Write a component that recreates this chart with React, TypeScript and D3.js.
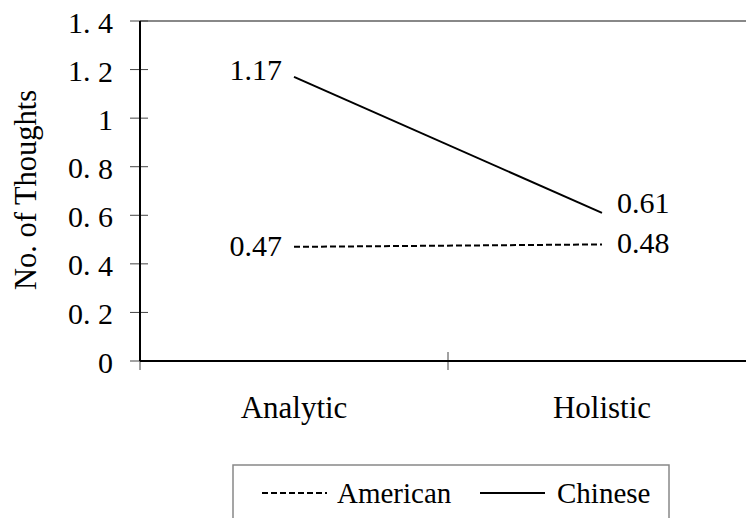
import React from "react";
import * as d3 from "d3";

const categories = ["Analytic", "Holistic"];
const seriesNames = ["American", "Chinese"];
const americanValues = [0.47, 0.48];
const chineseValues = [1.17, 0.61];
const yTicks = [0, 0.2, 0.4, 0.6, 0.8, 1, 1.2, 1.4];

const W = 746;
const H = 518;
const left = 140;
const right = 756;
const top = 21;
const bottom = 361;

const serif = "Liberation Serif, Times New Roman, Times, serif";

function TickLabel({ v, x, y }: { v: number; x: number; y: number }) {
  const s = d3.format("")(v);
  const parts = s.split(".");
  const style = { fontFamily: serif, fontSize: 30 };
  if (parts.length === 1) {
    return (
      <text x={x} y={y} textAnchor="end" dominantBaseline="central" style={style}>
        {s}
      </text>
    );
  }
  return (
    <text x={x} y={y} textAnchor="end" dominantBaseline="central" style={style}>
      {parts[0] + "."}
      <tspan dx={7.5}>{parts[1]}</tspan>
    </text>
  );
}

export default function App() {
  const x = d3.scaleBand<string>().domain(categories).range([left, right]);
  const y = d3.scaleLinear().domain([0, 1.4]).range([bottom, top]);
  const cx = (c: string) => (x(c) as number) + x.bandwidth() / 2;

  const line = d3
    .line<[string, number]>()
    .x((d) => cx(d[0]))
    .y((d) => y(d[1]));

  const series = [
    { name: seriesNames[0], values: americanValues, dash: "6,3", dyLeft: 9, dyRight: 9 },
    { name: seriesNames[1], values: chineseValues, dash: undefined as string | undefined, dyLeft: 3, dyRight: 0 },
  ];

  const txt = (size: number) => ({ fontFamily: serif, fontSize: size });

  return (
    <svg width={W} height={H} style={{ position: "absolute", left: 0, top: 0, background: "#fff" }}>
      {/* plot frame top edge */}
      <line x1={left} x2={right} y1={top} y2={top} stroke="#888" strokeWidth={2} />

      {/* y ticks */}
      {yTicks.map((t) => (
        <g key={t}>
          <line x1={left - 10} x2={t === 0 ? left : left + 8} y1={y(t)} y2={y(t)} stroke="#444" strokeWidth={1} />
          <TickLabel v={t} x={113} y={y(t) + 1} />
        </g>
      ))}

      {/* x ticks at category boundaries */}
      {[left, left + x.bandwidth(), right].map((bx, i) => (
        <line key={i} x1={bx} x2={bx} y1={i === 0 ? bottom : bottom - 9} y2={bottom + 9} stroke="#444" strokeWidth={1} />
      ))}

      {/* axes */}
      <line x1={left} x2={left} y1={top} y2={bottom} stroke="#000" strokeWidth={2} />
      <line x1={left} x2={right} y1={bottom} y2={bottom} stroke="#000" strokeWidth={2} />

      {/* category labels */}
      {categories.map((c) => (
        <text key={c} x={cx(c)} y={418} textAnchor="middle" style={txt(31)}>
          {c}
        </text>
      ))}

      {/* y axis title */}
      <text transform={`translate(36, 190) rotate(-90)`} textAnchor="middle" style={txt(30.5)}>
        No. of Thoughts
      </text>

      {/* series lines and value labels */}
      {series.map((s) => {
        const pts = categories.map((c, i) => [c, s.values[i]] as [string, number]);
        return (
          <g key={s.name}>
            <path d={line(pts) || ""} fill="none" stroke="#000" strokeWidth={2} strokeDasharray={s.dash} />
            <text x={cx(categories[0]) - 12} y={y(s.values[0]) + s.dyLeft} textAnchor="end" style={txt(30)}>
              {s.values[0].toFixed(2)}
            </text>
            <text x={cx(categories[1]) + 15} y={y(s.values[1]) + s.dyRight} textAnchor="start" style={txt(30)}>
              {s.values[1].toFixed(2)}
            </text>
          </g>
        );
      })}

      {/* legend */}
      <rect x={233} y={465} width={436} height={80} fill="#fff" stroke="#888" strokeWidth={1.5} />
      <line x1={262} x2={327} y1={493} y2={493} stroke="#000" strokeWidth={2} strokeDasharray="6,3" />
      <text x={337} y={503} style={txt(29)}>
        {seriesNames[0]}
      </text>
      <line x1={480} x2={545} y1={493} y2={493} stroke="#000" strokeWidth={2} />
      <text x={557} y={503} style={txt(29)}>
        {seriesNames[1]}
      </text>
    </svg>
  );
}
